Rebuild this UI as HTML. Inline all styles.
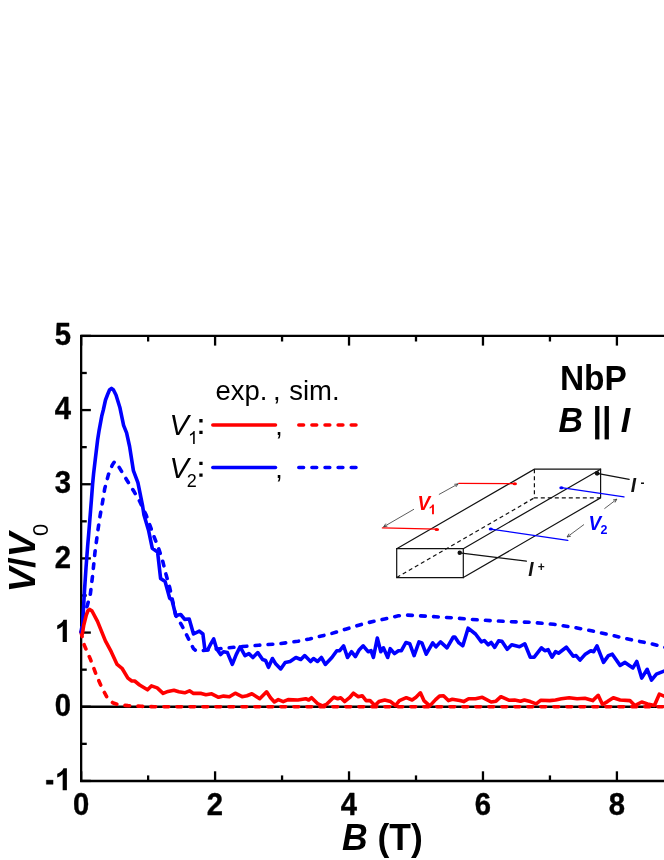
<!DOCTYPE html>
<html><head><meta charset="utf-8"><title>NbP</title>
<style>
html,body{margin:0;padding:0;background:#fff;}
body{width:664px;height:860px;overflow:hidden;}
svg{display:block;will-change:transform;}
text{font-family:"Liberation Sans",sans-serif;}
</style></head><body>
<svg width="664" height="860" viewBox="0 0 664 860">
<rect width="664" height="860" fill="#fff"/>
<!-- axes -->
<g stroke="#000" stroke-width="2.3" fill="none">
<path d="M670,335.9 L81.15,335.9 L81.15,781 L670,781"/>
<line x1="81.15" y1="706.75" x2="670" y2="706.75"/>
<line x1="81.15" y1="781" x2="81.15" y2="771.3"/><line x1="81.15" y1="335.9" x2="81.15" y2="345.59999999999997"/><line x1="148.12" y1="781" x2="148.12" y2="775.4"/><line x1="148.12" y1="335.9" x2="148.12" y2="341.5"/><line x1="215.09" y1="781" x2="215.09" y2="771.3"/><line x1="215.09" y1="335.9" x2="215.09" y2="345.59999999999997"/><line x1="282.06" y1="781" x2="282.06" y2="775.4"/><line x1="282.06" y1="335.9" x2="282.06" y2="341.5"/><line x1="349.03" y1="781" x2="349.03" y2="771.3"/><line x1="349.03" y1="335.9" x2="349.03" y2="345.59999999999997"/><line x1="416.0" y1="781" x2="416.0" y2="775.4"/><line x1="416.0" y1="335.9" x2="416.0" y2="341.5"/><line x1="482.97" y1="781" x2="482.97" y2="771.3"/><line x1="482.97" y1="335.9" x2="482.97" y2="345.59999999999997"/><line x1="549.9399999999999" y1="781" x2="549.9399999999999" y2="775.4"/><line x1="549.9399999999999" y1="335.9" x2="549.9399999999999" y2="341.5"/><line x1="616.91" y1="781" x2="616.91" y2="771.3"/><line x1="616.91" y1="335.9" x2="616.91" y2="345.59999999999997"/><line x1="81.15" y1="780.92" x2="90.85000000000001" y2="780.92"/><line x1="81.15" y1="743.835" x2="86.75" y2="743.835"/><line x1="81.15" y1="706.75" x2="90.85000000000001" y2="706.75"/><line x1="81.15" y1="669.665" x2="86.75" y2="669.665"/><line x1="81.15" y1="632.58" x2="90.85000000000001" y2="632.58"/><line x1="81.15" y1="595.495" x2="86.75" y2="595.495"/><line x1="81.15" y1="558.41" x2="90.85000000000001" y2="558.41"/><line x1="81.15" y1="521.325" x2="86.75" y2="521.325"/><line x1="81.15" y1="484.24" x2="90.85000000000001" y2="484.24"/><line x1="81.15" y1="447.155" x2="86.75" y2="447.155"/><line x1="81.15" y1="410.07" x2="90.85000000000001" y2="410.07"/><line x1="81.15" y1="372.985" x2="86.75" y2="372.985"/><line x1="81.15" y1="335.9" x2="90.85000000000001" y2="335.9"/>
</g>
<!-- curves -->
<g fill="none" stroke-width="3.6" stroke-linejoin="round" stroke-linecap="round">
<path stroke="#f00" stroke-dasharray="4.7 8.3" d="M81.0,632.0 L84.2,645.0 L90.2,658.7 L96.1,674.4 L102.0,688.1 L106.8,696.9 L112.7,702.7 L118.5,704.8 L128.0,705.6 L141.0,706.3 L154.0,706.7 L666.0,706.7"/>
<path stroke="#00f" stroke-dasharray="4.7 8.3" d="M81.0,632.0 L84.0,615.0 L87.3,605.7 L90.4,593.7 L92.6,575.5 L94.9,552.9 L97.9,530.2 L100.2,515.1 L102.4,503.0 L104.7,488.8 L108.5,474.4 L112.3,465.0 L114.6,461.6 L117.2,464.0 L119.8,468.4 L126.6,479.7 L134.2,491.8 L139.4,500.8 L146.2,515.1 L150.0,525.7 L154.5,537.8 L159.1,549.8 L162.9,561.9 L165.9,574.0 L169.7,587.6 L175.8,615.5 L181.7,625.2 L187.6,637.0 L193.5,648.7 L196.0,650.7 L201.3,650.7 L219.6,648.7 L239.2,646.8 L258.7,645.2 L278.3,643.8 L297.9,641.3 L309.6,638.9 L321.4,636.0 L330.0,634.0 L345.6,629.2 L365.2,623.3 L384.7,619.0 L398.4,615.8 L406.3,615.1 L420.0,615.8 L435.6,616.8 L452.0,617.8 L471.6,619.4 L491.2,620.7 L510.7,621.7 L530.3,622.3 L553.6,624.3 L573.2,627.2 L592.7,631.1 L612.3,635.4 L631.9,639.9 L651.5,643.8 L666.0,647.6"/>
<path stroke="#00f" d="M82.3,632.0 L83.2,613.3 L84.5,590.6 L86.0,568.0 L87.7,545.3 L88.6,535.0 L89.6,522.7 L91.4,500.0 L92.6,484.0 L93.6,473.7 L95.2,460.0 L96.1,452.5 L97.6,440.0 L99.2,429.8 L101.7,416.3 L103.3,410.0 L105.5,400.0 L107.6,394.5 L109.5,390.0 L111.5,388.4 L113.5,390.0 L116.0,395.0 L119.8,407.2 L123.6,425.3 L126.6,432.9 L129.6,446.5 L133.4,470.6 L137.9,482.7 L142.5,505.4 L144.0,515.1 L148.5,530.2 L152.3,548.3 L157.6,552.1 L160.6,578.5 L165.1,581.6 L169.7,598.2 L171.9,599.8 L175.8,615.5 L180.7,614.5 L184.7,619.4 L189.2,619.0 L193.5,634.0 L199.3,631.1 L202.9,634.0 L204.9,649.7 L207.8,649.7 L210.8,643.8 L213.7,638.9 L216.6,648.7 L220.6,654.6 L223.5,651.7 L227.4,652.6 L232.3,664.4 L236.2,654.6 L240.1,646.8 L245.0,655.6 L248.9,653.6 L252.9,657.5 L257.8,652.6 L262.6,659.5 L265.6,660.5 L268.5,667.3 L272.4,658.5 L275.4,663.4 L280.7,668.9 L285.2,662.4 L290.1,661.5 L295.9,657.5 L300.8,659.5 L304.7,655.6 L310.6,661.5 L313.5,658.5 L317.5,661.5 L321.4,657.5 L325.3,664.4 L331.9,657.5 L336.8,650.7 L339.7,650.7 L343.6,645.8 L347.5,657.5 L351.5,651.7 L355.4,656.6 L359.3,649.7 L363.2,645.8 L368.1,651.7 L371.0,650.7 L373.4,657.5 L377.3,638.0 L380.8,651.7 L383.4,647.8 L387.7,657.5 L390.2,648.7 L394.5,653.6 L398.4,650.7 L401.4,650.7 L405.9,642.5 L409.8,643.8 L414.1,655.6 L419.0,641.9 L421.9,642.9 L426.2,654.2 L432.7,642.9 L436.0,646.8 L440.5,641.9 L447.0,647.8 L453.3,637.0 L454.9,637.0 L458.9,642.9 L462.8,645.8 L468.1,628.2 L475.5,634.0 L481.4,641.9 L484.3,640.5 L488.2,644.8 L491.2,642.5 L494.7,647.4 L498.6,640.9 L501.9,641.3 L507.2,649.3 L511.7,644.8 L519.5,646.8 L524.8,643.8 L530.3,657.2 L534.2,657.2 L541.4,647.8 L544.8,650.7 L548.1,649.7 L552.0,657.2 L555.5,651.7 L558.5,653.2 L566.3,647.2 L573.2,656.2 L576.1,655.6 L580.0,660.1 L584.9,654.6 L590.8,650.7 L593.7,651.7 L597.0,645.8 L603.5,662.4 L608.4,655.6 L612.3,654.2 L620.1,665.4 L625.0,662.4 L632.9,667.9 L636.8,661.5 L641.7,678.1 L647.2,669.3 L651.5,680.1 L656.4,674.2 L666.0,670.3"/>
<path stroke="#f00" d="M82.3,634.0 L83.8,625.0 L86.3,615.0 L88.0,610.5 L89.7,609.4 L92.0,611.0 L97.5,621.3 L105.4,640.9 L111.2,651.7 L117.1,664.4 L122.0,668.3 L127.9,678.1 L131.8,681.0 L134.7,681.0 L139.6,685.0 L147.5,689.8 L151.4,685.9 L157.2,687.9 L163.1,693.4 L168.0,691.4 L173.9,690.2 L178.8,691.8 L184.7,692.8 L189.5,690.8 L193.5,693.4 L201.3,693.4 L205.9,694.7 L211.7,693.8 L218.6,697.3 L223.5,696.1 L229.4,696.7 L235.2,693.2 L242.1,696.7 L247.0,695.7 L251.9,693.8 L259.7,698.7 L266.6,691.8 L270.5,697.7 L274.4,702.0 L278.3,699.6 L283.2,701.6 L288.1,699.6 L297.9,700.0 L305.7,698.7 L308.7,700.0 L311.6,697.7 L317.5,703.5 L322.4,705.9 L326.3,704.5 L333.8,697.3 L337.7,698.7 L340.7,697.7 L344.6,701.6 L349.5,697.7 L353.4,693.2 L358.3,696.7 L362.2,695.7 L366.1,700.6 L370.0,700.6 L374.9,705.5 L378.9,701.6 L384.7,700.0 L390.6,701.6 L395.5,705.5 L399.4,700.6 L406.3,697.7 L412.1,700.0 L416.0,697.3 L420.4,692.8 L423.9,700.6 L429.8,705.9 L435.6,699.6 L439.5,696.1 L443.5,695.7 L448.4,700.6 L452.3,699.2 L459.8,700.6 L463.7,701.6 L468.6,698.7 L475.5,698.7 L482.3,697.3 L491.2,702.0 L496.0,701.2 L500.9,696.7 L508.8,700.2 L514.6,700.0 L520.5,701.2 L524.4,700.0 L530.3,701.6 L536.2,703.9 L540.9,700.2 L549.7,700.6 L555.5,700.0 L561.4,698.7 L569.2,697.7 L577.1,698.7 L584.9,698.3 L592.7,700.6 L598.2,695.3 L602.5,704.5 L607.4,701.6 L613.3,697.7 L620.1,700.0 L629.9,700.6 L634.8,705.5 L641.7,702.0 L647.6,703.9 L654.4,705.5 L659.3,694.2 L666.0,697.0"/>
</g>
<!-- tick labels -->
<g font-weight="bold" font-size="28" fill="#000" stroke="#000" stroke-width="0.35" stroke-linejoin="round">
<text transform="translate(81.05000000000001,814.7) scale(1.045,1.15)" text-anchor="middle">0</text><text transform="translate(214.99,814.7) scale(1.045,1.15)" text-anchor="middle">2</text><text transform="translate(348.92999999999995,814.7) scale(1.045,1.15)" text-anchor="middle">4</text><text transform="translate(482.87,814.7) scale(1.045,1.15)" text-anchor="middle">6</text><text transform="translate(616.81,814.7) scale(1.045,1.15)" text-anchor="middle">8</text>
<text transform="translate(71.1,345.09999999999997) scale(1.045,1.15)" text-anchor="end">5</text><text transform="translate(71.1,419.27) scale(1.045,1.15)" text-anchor="end">4</text><text transform="translate(71.1,493.44) scale(1.045,1.15)" text-anchor="end">3</text><text transform="translate(71.1,567.61) scale(1.045,1.15)" text-anchor="end">2</text><path fill="#000" transform="translate(54.8,641.88) scale(0.01499,-0.01499)" d="M806,0 H525 V1059 Q371,915 162,846 V1101 Q272,1137 401,1237.5 Q530,1338 578,1472 H806 Z"/><text transform="translate(71.1,715.95) scale(1.045,1.15)" text-anchor="end">0</text><path fill="#000" transform="translate(54.8,790.2199999999999) scale(0.01499,-0.01499)" d="M806,0 H525 V1059 Q371,915 162,846 V1101 Q272,1137 401,1237.5 Q530,1338 578,1472 H806 Z"/><rect x="46.3" y="780.1" width="6.8" height="4.2"/>
</g>
<!-- axis titles -->
<text transform="translate(342,850.2) scale(1,1.04)" font-weight="bold" font-size="35.5" fill="#000"><tspan font-style="italic">B</tspan> (T)</text>
<g transform="translate(36,590) rotate(-90)">
<text x="-2.3" y="-1.1" font-weight="bold" font-size="37" fill="#000"><tspan font-style="italic">V</tspan>/<tspan font-style="italic">V</tspan></text>
<text x="54" y="12" font-size="22" fill="#000">0</text>
</g>
<!-- legend -->
<g font-size="27" fill="#000">
<text transform="translate(215.4,400) scale(1.017,1)">exp.</text><text transform="translate(272.9,400) scale(1.017,1)">,</text><text transform="translate(289.3,400) scale(1.017,1)">sim.</text>
<text x="169.5" y="435" font-size="29" font-style="italic">V</text>
<path fill="#000" transform="translate(188.0,444.0) scale(0.00879,-0.00879)" d="M763,0 H583 V1147 Q518,1085 412.5,1023 Q307,961 223,930 V1104 Q374,1175 487,1276 Q600,1377 647,1472 H763 Z"/>
<path d="M199.3,419.1h3.3v3.3h-3.3z M199.3,430.8h3.3v3.3h-3.3z M199.3,461.7h3.3v3.3h-3.3z M199.3,473.4h3.3v3.3h-3.3z"/>
<text x="275.3" y="435.3">,</text>
<text x="169.5" y="477.6" font-size="29" font-style="italic">V</text>
<text x="186.8" y="487.2" font-size="18">2</text>
<text x="275.3" y="477.9">,</text>
</g>
<g fill="none" stroke-width="3.5" stroke-linecap="round">
<line x1="212.8" y1="424.9" x2="275.5" y2="424.9" stroke="#f00"/>
<line x1="298.8" y1="424.9" x2="357.5" y2="424.9" stroke="#f00" stroke-dasharray="4.8 8.3"/>
<line x1="212.8" y1="467.6" x2="275.5" y2="467.6" stroke="#00f"/>
<line x1="298.8" y1="467.6" x2="357.5" y2="467.6" stroke="#00f" stroke-dasharray="4.8 8.3"/>
</g>
<!-- title -->
<g font-weight="bold" font-size="33" fill="#000">
<text transform="translate(559.9,389.6) scale(1.015,1.045)">NbP</text>
<text transform="translate(558.6,432.3) scale(1.027,1.05)"><tspan font-style="italic">B</tspan> || <tspan font-style="italic">I</tspan></text>
</g>
<!-- inset -->
<g stroke="#111" stroke-width="1.2" fill="none" stroke-linecap="round">
<path d="M396.7,548.7 H463.3 V577.6 H396.7 Z"/>
<path d="M396.7,548.7 L534.4,469.2 H600.6 V497.8 L463.3,577.6"/>
<path d="M463.3,548.7 L600.6,469.2"/>
<path stroke-dasharray="4 3" stroke-linecap="butt" d="M396.7,577.6 L534.4,497.8 M534.4,469.2 V497.8 H600.6"/>
<path d="M459.7,552.8 L526.4,561.1"/>
<path d="M597.1,473.3 L629.2,479.4"/>
</g>
<g fill="#111"><circle cx="459.7" cy="552.8" r="2.2"/><circle cx="597.1" cy="473.3" r="2.4"/></g>
<g stroke="#f00" stroke-width="1.3" fill="none" stroke-linecap="round">
<path d="M458.8,483.4 L515.7,483.6"/>
<path d="M382.4,527.9 L436.6,529.1"/>
</g>
<g fill="#f00"><ellipse cx="514.8" cy="483.8" rx="2.2" ry="1.5"/><ellipse cx="436.8" cy="529.5" rx="2.3" ry="1.5"/></g>
<g stroke="#00f" stroke-width="1.3" fill="none" stroke-linecap="round">
<path d="M561.4,487.7 L624,496.8"/>
<path d="M490.8,529.1 L567.8,540.4"/>
</g>
<g fill="#00f"><ellipse cx="561.4" cy="487.7" rx="2.1" ry="1.5"/><ellipse cx="490.8" cy="529.1" rx="2.1" ry="1.5"/></g>
<!-- arrows -->
<g stroke="#333" stroke-width="0.8" fill="none">
<path d="M383.6,526.8 L414,509.2 M438.9,494.5 L458.1,483.9"/>
<path d="M383.6,526.8 l3.8,-0.6 M383.6,526.8 l2.2,-3.2 M458.1,483.9 l-3.8,0.4 M458.1,483.9 l-2.3,3.1"/>
<path d="M567.1,537 L584,524.5 M604.4,508.7 L616.8,499.2"/>
<path d="M567.1,537 l3.8,-0.8 M567.1,537 l1.8,-3.3 M616.8,499.2 l-3.8,0.8 M616.8,499.2 l-1.8,3.3"/>
</g>
<g font-weight="bold" font-style="italic" font-size="19">
<text transform="translate(417.5,509.7) scale(1,1.1)" fill="#f00">V</text>
<path fill="#f00" transform="translate(428.6,514.3) scale(0.00659,-0.00659)" d="M806,0 H525 V1059 Q371,915 162,846 V1101 Q272,1137 401,1237.5 Q530,1338 578,1472 H806 Z"/>
<text transform="translate(588.6,529.6) scale(1,1.1)" fill="#00f">V</text>
<text transform="translate(600.6,534.4) scale(1,1.08)" font-size="12.5" fill="#00f" font-style="normal">2</text>
<text transform="translate(630.7,492) scale(1,1.08)" fill="#111">I</text>
<text x="640.5" y="486.6" font-size="12" fill="#111" font-style="normal">-</text>
<text transform="translate(528.2,576) scale(1,1.08)" fill="#111">I</text>
<text x="537.8" y="571" font-size="12" fill="#111" font-style="normal">+</text>
</g>
</svg>
</body></html>
